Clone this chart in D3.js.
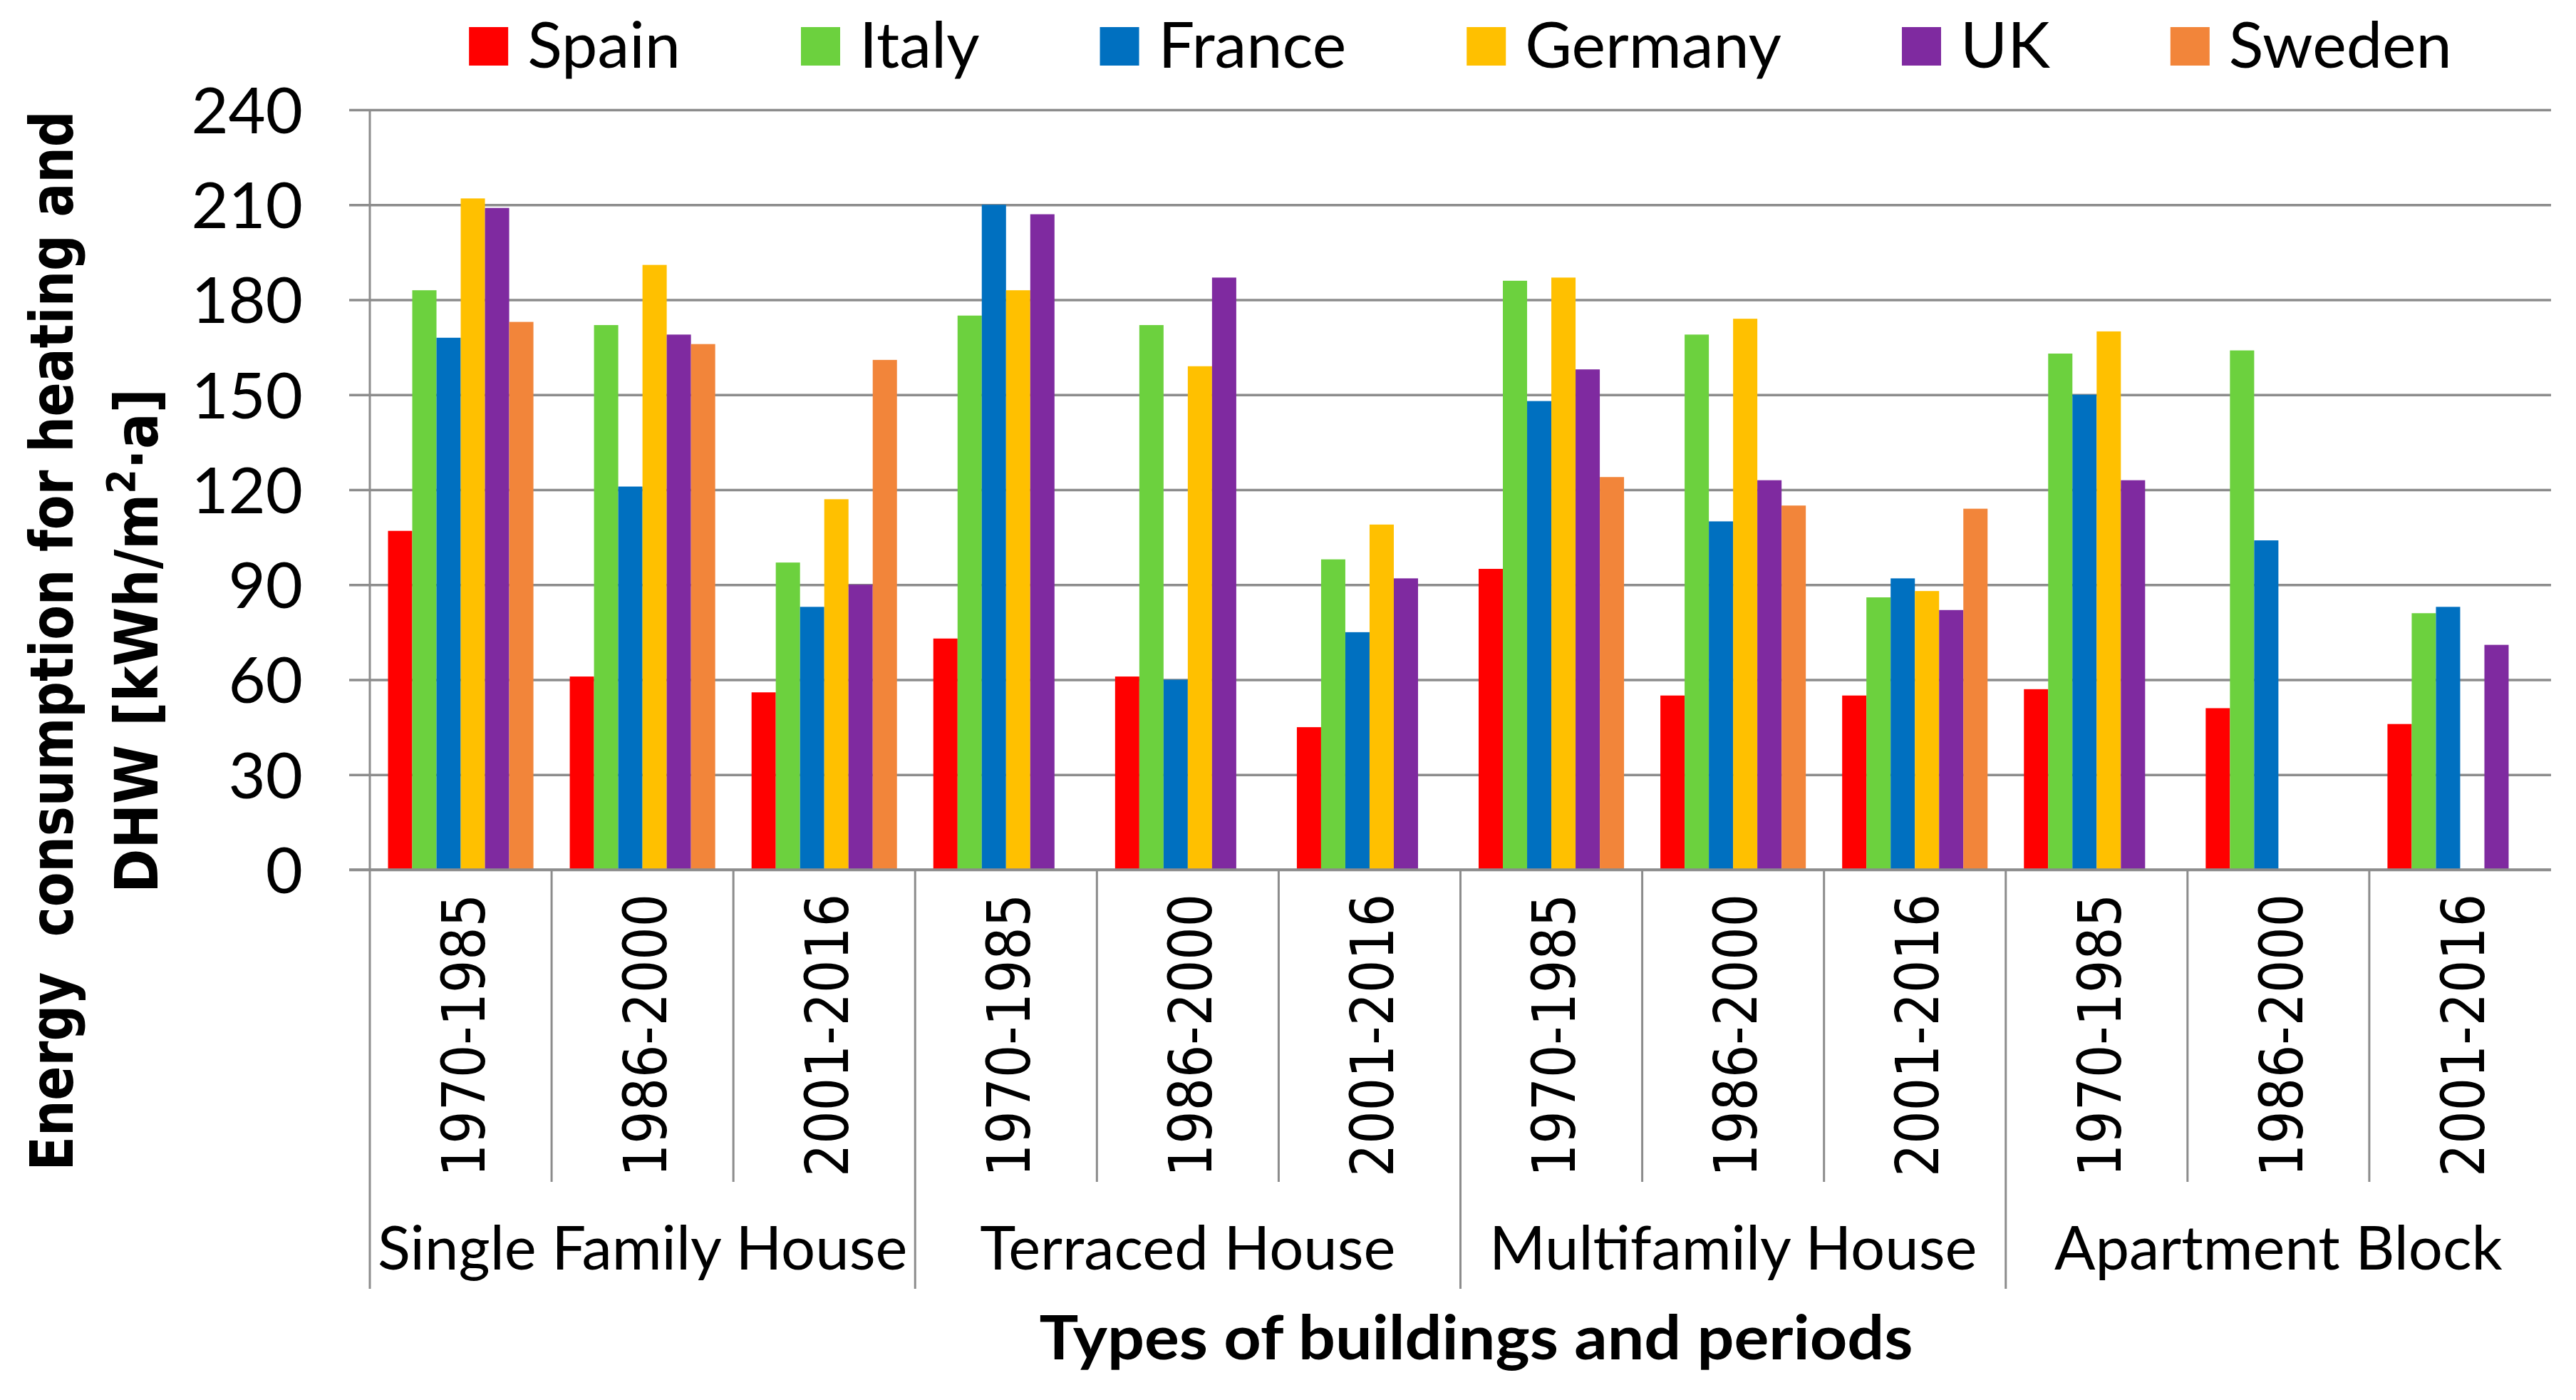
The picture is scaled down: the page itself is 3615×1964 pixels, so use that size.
<!DOCTYPE html>
<html>
<head>
<meta charset="utf-8">
<script src="https://cdn.jsdelivr.net/npm/d3@7"></script>
<style>
  body { margin: 0; background: #fff; }
  svg { display: block; }
</style>
</head>
<body>
<div id="chart"></div>
<script>
// Data (kWh/m²·a); null = no bar
const buildingTypes = ["Single Family House", "Terraced House", "Multifamily House", "Apartment Block"];
const periods = ["1970-1985", "1986-2000", "2001-2016"];
const countries = ["Spain", "Italy", "France", "Germany", "UK", "Sweden"];
const countryColors = ["#ff0000", "#6cd13e", "#0070c0", "#ffc000", "#7f2aa0", "#f2853a"];

const spain   = [107, 61, 56, 73, 61, 45, 95, 55, 55, 57, 51, 46];
const italy   = [183, 172, 97, 175, 172, 98, 186, 169, 86, 163, 164, 81];
const france  = [168, 121, 83, 210, 60, 75, 148, 110, 92, 150, 104, 83];
const germany = [212, 191, 117, 183, 159, 109, 187, 174, 88, 170, null, null];
const uk      = [209, 169, 90, 207, 187, 92, 158, 123, 82, 123, null, 71];
const sweden  = [173, 166, 161, null, null, null, 124, 115, 114, null, null, null];

const yTicks = [0, 30, 60, 90, 120, 150, 180, 210, 240];

const seriesValues = [spain, italy, france, germany, uk, sweden];

// one entry per x category (building type x period)
const categories = [];
buildingTypes.forEach(b => periods.forEach(p => categories.push({ building: b, period: p })));

const W = 3615, H = 1964;
const plotLeft = 519, plotRight = 3580, plotTop = 154, plotBottom = 1220;
const tickLen = 29;
const gridColor = "#8c8c8c";
const calibriLike = "Lato, 'Open Sans', sans-serif";

const svg = d3.select("#chart")
  .append("svg")
  .attr("width", W)
  .attr("height", H);

svg.append("rect").attr("width", W).attr("height", H).attr("fill", "#fff");

// Scales
const x0 = d3.scaleBand()
  .domain(d3.range(categories.length))
  .range([plotLeft, plotRight])
  .padding(0);

const x1 = d3.scaleBand()
  .domain(countries)
  .range([0, x0.bandwidth()])
  .paddingInner(0)
  .paddingOuter(0.75);

const y = d3.scaleLinear()
  .domain([0, 240])
  .range([plotBottom, plotTop]);

const color = d3.scaleOrdinal().domain(countries).range(countryColors);

// Gridlines + y ticks
const yAxis = svg.append("g")
  .attr("transform", `translate(${plotLeft - tickLen},0)`)
  .call(d3.axisLeft(y)
    .tickValues(yTicks)
    .tickSizeInner(-(plotRight - plotLeft + tickLen))
    .tickSizeOuter(0)
    .tickPadding(65));

yAxis.select(".domain").remove();
yAxis.selectAll(".tick line")
  .attr("stroke", gridColor)
  .attr("stroke-width", 3.5);
yAxis.selectAll(".tick text")
  .attr("font-family", calibriLike)
  .attr("font-size", 90)
  .attr("fill", "#000")
  .attr("dy", "0.36em");

// Bars
const rows = categories.map((c, i) => ({
  index: i,
  values: countries.map((name, k) => ({ name, value: seriesValues[k][i] }))
    .filter(d => d.value !== null)
}));

svg.append("g")
  .selectAll("g")
  .data(rows)
  .join("g")
  .attr("transform", d => `translate(${x0(d.index)},0)`)
  .selectAll("rect")
  .data(d => d.values)
  .join("rect")
  .attr("x", d => x1(d.name))
  .attr("y", d => y(d.value))
  .attr("width", x1.bandwidth())
  .attr("height", d => y(0) - y(d.value))
  .attr("fill", d => color(d.name));

// y axis line and category separators below the plot
const lines = svg.append("g")
  .attr("stroke", gridColor)
  .attr("stroke-width", 3);

lines.append("line")
  .attr("x1", plotLeft).attr("x2", plotLeft)
  .attr("y1", plotTop).attr("y2", plotBottom);

lines.append("line")
  .attr("x1", plotLeft - tickLen).attr("x2", plotRight)
  .attr("y1", plotBottom).attr("y2", plotBottom)
  .attr("stroke-width", 3.5);

lines.selectAll(".sep")
  .data(d3.range(categories.length))
  .join("line")
  .attr("class", "sep")
  .attr("x1", i => x0(i)).attr("x2", i => x0(i))
  .attr("y1", plotBottom)
  .attr("y2", i => (i % periods.length === 0 ? 1808 : 1658));

// Period labels (rotated)
svg.append("g")
  .selectAll("text")
  .data(categories)
  .join("text")
  .attr("transform", (d, i) => `translate(${x0(i) + x0.bandwidth() / 2 + 3},1254) rotate(-90)`)
  .attr("text-anchor", "end")
  .attr("dy", "0.36em")
  .attr("font-family", "'DejaVu Sans', sans-serif")
  .attr("font-size", 84)
  .attr("textLength", 397)
  .attr("lengthAdjust", "spacingAndGlyphs")
  .text(d => d.period);

// Building type labels
svg.append("g")
  .selectAll("text")
  .data(buildingTypes)
  .join("text")
  .attr("x", (d, i) => (x0(i * periods.length) + x0(i * periods.length + periods.length - 1) + x0.bandwidth()) / 2)
  .attr("y", 1781)
  .attr("text-anchor", "middle")
  .attr("font-family", calibriLike)
  .attr("font-size", 85)
  .text(d => d);

// X axis title
svg.append("text")
  .attr("x", (plotLeft + plotRight) / 2 + 22)
  .attr("y", 1907)
  .attr("text-anchor", "middle")
  .attr("font-family", calibriLike)
  .attr("font-weight", "bold")
  .attr("font-size", 86)
  .attr("textLength", 1226)
  .attr("lengthAdjust", "spacingAndGlyphs")
  .text("Types of buildings and periods");

// Y axis title (two rotated lines)
const yTitleCenter = 899;
svg.append("text")
  .attr("transform", `translate(102,${yTitleCenter}) rotate(-90)`)
  .attr("text-anchor", "middle")
  .attr("font-family", "'DejaVu Sans', sans-serif")
  .attr("font-weight", "bold")
  .attr("font-size", 84)
  .attr("textLength", 1487)
  .attr("lengthAdjust", "spacingAndGlyphs")
  .style("white-space", "pre")
  .text("Energy  consumption for heating and");

const t2 = svg.append("text")
  .attr("transform", `translate(221,${yTitleCenter}) rotate(-90)`)
  .attr("text-anchor", "middle")
  .attr("font-family", "'DejaVu Sans', sans-serif")
  .attr("font-weight", "bold")
  .attr("font-size", 84)
  .attr("textLength", 708)
  .attr("lengthAdjust", "spacingAndGlyphs");
t2.append("tspan").text("DHW [kWh/m");
t2.append("tspan").attr("baseline-shift", "super").attr("font-size", 55).text("2");
t2.append("tspan").text("·a]");

// Legend
const legend = svg.append("g");
const sq = 55, sqGap = 27, itemGap = 169;
const items = legend.selectAll("g")
  .data(countries)
  .join("g");

items.append("rect")
  .attr("y", 38)
  .attr("width", sq)
  .attr("height", sq - 1)
  .attr("fill", d => color(d));

items.append("text")
  .attr("x", sq + sqGap)
  .attr("y", 95)
  .attr("font-family", calibriLike)
  .attr("font-size", 90)
  .text(d => d);

let cursor = 0;
items.each(function () {
  const w = d3.select(this).select("text").node().getComputedTextLength();
  d3.select(this).attr("transform", `translate(${cursor},0)`);
  cursor += sq + sqGap + w + itemGap;
});
const legendWidth = cursor - itemGap;
legend.attr("transform", `translate(${(plotLeft + plotRight) / 2 - legendWidth / 2},0)`);
</script>
</body>
</html>
